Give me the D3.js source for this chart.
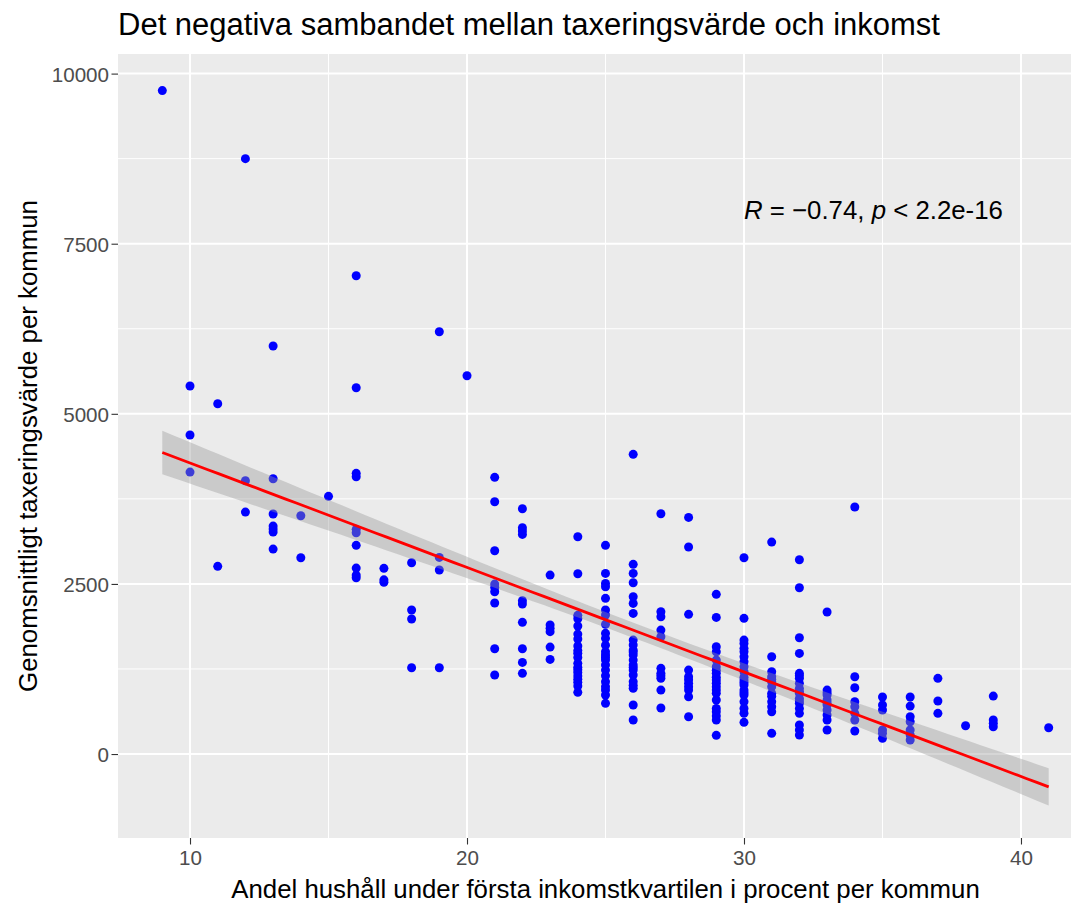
<!DOCTYPE html>
<html>
<head>
<meta charset="utf-8">
<script src="https://cdn.jsdelivr.net/npm/d3@7"></script>
<style>
  body { margin: 0; background: #fff; }
  text { font-family: "Liberation Sans", Arial, sans-serif; }
</style>
</head>
<body>
<svg id="chart" width="1071" height="907"></svg>
<script>
// andel hushåll under första kvartilen (x), en kolumn per heltal
const andelProcent = [9, 10, 11, 12, 13, 14, 15, 16, 17, 18, 19, 20, 21, 22, 23, 24, 25, 26, 27, 28, 29, 30, 31, 32, 33, 34, 35, 36, 37, 38, 39, 41];

// taxeringsvärde per kommun, grupperat efter andelProcent
// (täta kolumner har överlappande punkter, några värden är dubbletter)
const taxeringsvarde = [
  [9750],
  [5408, 4688, 4144],
  [5148, 2758],
  [8750, 4017, 3556],
  [5996, 4046, 3527, 3350, 3306, 3262, 3012],
  [3502, 2885],
  [3787],
  [7029, 5383, 4125, 4075, 3302, 3252, 3067, 2733, 2630, 2590],
  [2729, 2560, 2525],
  [2811, 2116, 1984, 1268],
  [6206, 2890, 2704, 1268],
  [5560],
  [4066, 3708, 2988, 2498, 2449, 2385, 2219, 1548, 1161],
  [3605, 3326, 3277, 3228, 2253, 2204, 1935, 1548, 1347, 1186],
  [2630, 1896, 1847, 1798, 1572, 1391],
  [3194, 2650, 2038, 1989, 1881, 1763, 1690, 1587, 1520, 1480, 1420, 1333, 1274, 1240, 1200, 1146, 1100, 1054, 1000, 907],
  [3067, 2655, 2508, 2459, 2288, 2116, 2043, 1906, 1774, 1700, 1600, 1504, 1455, 1420, 1381, 1308, 1234, 1150, 1062, 989, 940, 867, 745],
  [4404, 2788, 2655, 2517, 2312, 2214, 2067, 1675, 1602, 1528, 1500, 1455, 1381, 1308, 1270, 1234, 1161, 1062, 1010, 965, 720, 500],
  [3531, 2091, 2018, 1822, 1724, 1259, 1186, 1150, 1112, 940, 676],
  [3478, 3042, 2053, 1234, 1136, 1090, 1039, 990, 940, 842, 548],
  [2347, 2008, 1577, 1504, 1381, 1283, 1230, 1186, 1130, 1087, 1040, 989, 940, 892, 794, 671, 622, 560, 500, 275],
  [2885, 1994, 1675, 1626, 1553, 1504, 1430, 1357, 1283, 1210, 1130, 1087, 1050, 1014, 940, 900, 867, 769, 671, 600, 466],
  [3115, 1430, 1209, 1136, 1100, 1062, 989, 892, 850, 769, 695, 622, 304],
  [2855, 2444, 1709, 1479, 1186, 1150, 1112, 1039, 965, 920, 892, 818, 780, 745, 671, 598, 426, 353, 279],
  [2087, 940, 900, 867, 794, 750, 720, 647, 573, 500, 353],
  [3630, 1136, 974, 769, 695, 598, 500, 338],
  [838, 720, 647, 353, 304, 231],
  [838, 705, 548, 475, 353, 279, 206],
  [1112, 779, 598],
  [416],
  [852, 500, 451, 401],
  [386]
];

const xTicks = [10, 20, 30, 40];
const xMinor = [15, 25, 35];
const yTicks = [0, 2500, 5000, 7500, 10000];
const yMinor = [-1250, 1250, 3750, 6250, 8750];

const titleText = "Det negativa sambandet mellan taxeringsvärde och inkomst";
const xTitle = "Andel hushåll under första inkomstkvartilen i procent per kommun";
const yTitle = "Genomsnittligt taxeringsvärde per kommun";
const corLabelPos = [30, 8000];
const corLabel = [["R", true], [" = \u22120.74, ", false], ["p", true], [" < 2.2e-16", false]];

const width = 1071, height = 907;
const panel = { left: 118, right: 1093, top: 54, bottom: 838 };

const svg = d3.select("#chart");

// platta ut till punkter
var points = [];
andelProcent.forEach(function(x, i) {
  taxeringsvarde[i].forEach(function(y) { points.push({ x: x, y: y }); });
});

// linjär regression + 95% konfidensband (som geom_smooth(method = "lm"))
var n = points.length;
var xbar = d3.mean(points, d => d.x), ybar = d3.mean(points, d => d.y);
var sxx = d3.sum(points, d => (d.x - xbar) * (d.x - xbar));
var sxy = d3.sum(points, d => (d.x - xbar) * (d.y - ybar));
var slope = sxy / sxx, intercept = ybar - slope * xbar;
var sse = d3.sum(points, d => Math.pow(d.y - (intercept + slope * d.x), 2));
var sigma = Math.sqrt(sse / (n - 2));
var tCrit = 1.969;

var xExtent = d3.extent(points, d => d.x);
var fit = d3.range(80).map(function(i) {
  var x0 = xExtent[0] + (xExtent[1] - xExtent[0]) * i / 79;
  var yhat = intercept + slope * x0;
  var se = sigma * Math.sqrt(1 / n + (x0 - xbar) * (x0 - xbar) / sxx);
  return { x: x0, y: yhat, lo: yhat - tCrit * se, hi: yhat + tCrit * se };
});

var x = d3.scaleLinear().domain([7.4, 42.6]).range([panel.left, panel.right]);
var y = d3.scaleLinear().domain([-1234, 10288]).range([panel.bottom, panel.top]);

svg.append("rect").attr("width", width).attr("height", height).attr("fill", "#fff");

svg.append("defs").append("clipPath").attr("id", "clip")
  .append("rect").attr("x", panel.left).attr("y", panel.top)
  .attr("width", panel.right - panel.left).attr("height", panel.bottom - panel.top);

var plot = svg.append("g").attr("clip-path", "url(#clip)");

plot.append("rect")
  .attr("x", panel.left).attr("y", panel.top)
  .attr("width", panel.right - panel.left).attr("height", panel.bottom - panel.top)
  .attr("fill", "#EBEBEB");

// grid
plot.selectAll("line.xminor").data(xMinor).enter().append("line")
  .attr("x1", d => x(d)).attr("x2", d => x(d)).attr("y1", panel.top).attr("y2", panel.bottom)
  .attr("stroke", "#fff").attr("stroke-width", 1);
plot.selectAll("line.yminor").data(yMinor).enter().append("line")
  .attr("y1", d => y(d)).attr("y2", d => y(d)).attr("x1", panel.left).attr("x2", panel.right)
  .attr("stroke", "#fff").attr("stroke-width", 1);
plot.selectAll("line.xmajor").data(xTicks).enter().append("line")
  .attr("x1", d => x(d)).attr("x2", d => x(d)).attr("y1", panel.top).attr("y2", panel.bottom)
  .attr("stroke", "#fff").attr("stroke-width", 2);
plot.selectAll("line.ymajor").data(yTicks).enter().append("line")
  .attr("y1", d => y(d)).attr("y2", d => y(d)).attr("x1", panel.left).attr("x2", panel.right)
  .attr("stroke", "#fff").attr("stroke-width", 2);

// punkter
plot.selectAll("circle").data(points).enter().append("circle")
  .attr("cx", d => x(d.x)).attr("cy", d => y(d.y)).attr("r", 4.5)
  .attr("fill", "#0000FF");

// konfidensband och regressionslinje
plot.append("path").datum(fit)
  .attr("d", d3.area().x(d => x(d.x)).y0(d => y(d.lo)).y1(d => y(d.hi)))
  .attr("fill", "#999999").attr("fill-opacity", 0.4);
plot.append("path").datum(fit)
  .attr("d", d3.line().x(d => x(d.x)).y(d => y(d.y)))
  .attr("fill", "none").attr("stroke", "#FF0000").attr("stroke-width", 2.8);

// axlar
var xAxis = d3.axisBottom(x).tickValues(xTicks).tickSize(6.5).tickPadding(6);
var yAxis = d3.axisLeft(y).tickValues(yTicks).tickFormat(d3.format("d")).tickSize(6.5).tickPadding(2.5);

var gx = svg.append("g").attr("transform", `translate(0,${panel.bottom})`).call(xAxis);
var gy = svg.append("g").attr("transform", `translate(${panel.left},0)`).call(yAxis);
[gx, gy].forEach(function(g) {
  g.select(".domain").remove();
  g.selectAll(".tick line").attr("stroke", "#333333").attr("stroke-width", 1.1);
  g.selectAll(".tick text").attr("fill", "#4D4D4D").style("font-size", "20.6px")
    .style("font-family", "'Liberation Sans', Arial, sans-serif");
});
gy.selectAll(".tick text").attr("dy", "0.36em");

// texter
svg.append("text").attr("x", panel.left).attr("y", 35)
  .style("font-size", "31px").attr("fill", "#000").text(titleText);

svg.append("text").attr("x", (panel.left + panel.right) / 2).attr("y", 898)
  .attr("text-anchor", "middle").style("font-size", "25.8px").attr("fill", "#000").text(xTitle);

svg.append("text")
  .attr("transform", `translate(37,${(panel.top + panel.bottom) / 2}) rotate(-90)`)
  .attr("text-anchor", "middle").style("font-size", "25.8px").attr("fill", "#000").text(yTitle);

var cor = svg.append("text").attr("x", x(corLabelPos[0])).attr("y", y(corLabelPos[1]))
  .attr("dy", "0.35em").style("font-size", "25.8px").attr("fill", "#000");
cor.selectAll("tspan").data(corLabel).enter().append("tspan")
  .style("font-style", d => d[1] ? "italic" : "normal")
  .attr("xml:space", "preserve")
  .text(d => d[0]);
</script>
</body>
</html>
